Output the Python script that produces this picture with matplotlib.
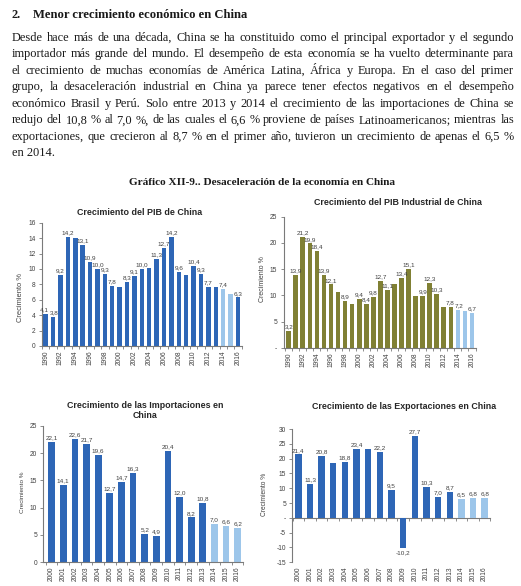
import matplotlib
matplotlib.use("Agg")
import matplotlib.pyplot as plt
import numpy as np

# ---------------------------------------------------------------- data
years_long = list(range(1990, 2017))
years_short = list(range(2000, 2017))

pib = [4.1, 3.8, 9.2, 14.2, 14.0, 13.1, 10.9, 10.0, 9.3, 7.8, 7.6, 8.3, 9.1, 10.0,
       10.1, 11.3, 12.7, 14.2, 9.6, 9.2, 10.4, 9.3, 7.7, 7.7, 7.4, 6.8, 6.3]
pib_unlabeled = [4, 10, 14, 19, 23, 25]
pib_projected = [2014, 2015]

industrial = [3.2, 13.9, 21.2, 19.9, 18.4, 13.9, 12.1, 10.7, 8.9, 8.3, 9.4, 8.4, 9.8,
              12.7, 11.1, 12.2, 13.4, 15.1, 9.9, 9.9, 12.3, 10.3, 7.9, 7.8, 7.2, 7.0, 6.7]
industrial_unlabeled = [7, 9, 15, 18, 22, 25]
industrial_projected = [2014, 2015, 2016]

importaciones = [22.1, 14.1, 22.6, 21.7, 19.6, 12.7, 14.7, 16.3, 5.2, 4.9, 20.4,
                 12.0, 8.2, 10.8, 7.0, 6.6, 6.2]
importaciones_unlabeled = []

exportaciones = [21.4, 11.3, 20.8, 18.6, 18.8, 23.4, 23.4, 22.2, 9.5, -10.2, 27.7,
                 10.3, 7.0, 8.7, 6.5, 6.8, 6.8]
exportaciones_unlabeled = [3, 6]
trade_projected = [2014, 2015, 2016]

heading_num = "2."
heading = "Menor crecimiento económico en China"
paragraph = [
    "Desde hace más de una década, China se ha constituido como el principal exportador y el segundo",
    "importador más grande del mundo. El desempeño de esta economía se ha vuelto determinante para",
    "el crecimiento de muchas economías de América Latina, África y Europa. En el caso del primer",
    "grupo, la desaceleración industrial en China ya parece tener efectos negativos en el desempeño",
    "económico Brasil y Perú. Solo entre 2013 y 2014 el crecimiento de las importaciones de China se",
    "redujo del 10,8 % al 7,0 %, de las cuales el 6,6 % proviene de países Latinoamericanos; mientras las",
    "exportaciones, que crecieron al 8,7 % en el primer año, tuvieron un crecimiento de apenas el 6,5 %",
    "en 2014.",
]
figure_title = "Gráfico XII-9.. Desaceleración de la economía en China"

# ---------------------------------------------------------------- style
DARK = "#2E66B6"
LIGHT = "#9DC6EA"
OLIVE = "#808034"
GREY_TXT = "#404040"
AXIS_COL = "#7a7a7a"
SERIF = "Liberation Serif"
SANS = "Liberation Sans"

plt.rcParams["font.family"] = [SANS, "DejaVu Sans"]

W, H = 521, 586
fig = plt.figure(figsize=(W / 100, H / 100), dpi=100)
renderer = fig.canvas.get_renderer()


def fx(x):
    return x / W


def fy(y):
    return 1 - y / H


def width_px(s, **kw):
    t = fig.text(0, 0, s, **kw)
    w = t.get_window_extent(renderer).width
    t.remove()
    return w


# ---------------------------------------------------------------- text block
x_left, x_right = 12, 514
base0, lead = 41.0, 16.45

# body size chosen so the tightest line fills the column with plain spaces
probe = width_px(paragraph[5], family=SERIF, fontsize=8.0)
body_size = 8.0 * (x_right - x_left - 3) / probe
body_kw = dict(family=SERIF, fontsize=body_size, color="#1a1a1a")

fig.text(fx(12), fy(18.5), heading_num, family=SERIF, fontweight="bold",
         fontsize=8.8, color="#1a1a1a", va="baseline")
hs = 8.6 * 214 / width_px(heading, family=SERIF, fontweight="bold", fontsize=8.6)
fig.text(fx(33), fy(18.5), heading, family=SERIF, fontweight="bold",
         fontsize=hs, color="#1a1a1a", va="baseline")

for i, line in enumerate(paragraph):
    yb = fy(base0 + i * lead)
    words = line.split(" ")
    if i == len(paragraph) - 1:
        fig.text(fx(x_left), yb, line, va="baseline", **body_kw)
        continue
    widths = [width_px(w, **body_kw) for w in words]
    gap = (x_right - x_left - sum(widths)) / (len(words) - 1)
    x = x_left
    for w, wd in zip(words, widths):
        fig.text(fx(x), yb, w, va="baseline", **body_kw)
        x += wd + gap

ts = 8.2 * 269 / width_px(figure_title, family=SERIF, fontweight="bold", fontsize=8.2)
fig.text(fx(262), fy(185), figure_title, family=SERIF, fontweight="bold",
         fontsize=ts, color="#1a1a1a", ha="center", va="baseline")


# ---------------------------------------------------------------- charts
def fmt(v):
    return f"{v:.1f}".replace(".", ",")


def make_axes(l, r, t, b):
    return fig.add_axes([fx(l), fy(b), fx(r) - fx(l), fy(t) - fy(b)])


def style_axes(ax, years, ylim, yticks, step, zero_dash=False):
    ax.set_ylim(*ylim)
    ax.set_yticks(yticks)
    labels = [("-" if (zero_dash and v == 0) else f"{v:g}") for v in yticks]
    ax.set_yticklabels(labels)
    for s in ("top", "right"):
        ax.spines[s].set_visible(False)
    for s in ("left", "bottom"):
        ax.spines[s].set_color(AXIS_COL)
        ax.spines[s].set_linewidth(0.8)
    idx = np.arange(len(years))
    ax.set_xticks(idx[::step])
    ax.set_xticklabels([str(y) for y in years][::step], rotation=90)
    ax.set_xticks(np.arange(len(years) + 1) - 0.5, minor=True)
    ax.tick_params(axis="y", direction="out", length=2.5, width=0.6,
                   color=AXIS_COL, labelsize=4.8, labelcolor=GREY_TXT, pad=2)
    ax.tick_params(axis="x", which="major", length=0, labelsize=4.8,
                   labelcolor=GREY_TXT, pad=3)
    ax.tick_params(axis="x", which="minor", direction="out", length=2,
                   width=0.6, color=AXIS_COL)
    ax.set_facecolor("none")


def draw_bars(ax, years, values, base_color, projected, unlabeled, width,
              nudge=None):
    nudge = nudge or {}
    idx = np.arange(len(years))
    colors = [LIGHT if y in projected else base_color for y in years]
    ax.bar(idx, values, width=width, color=colors, zorder=2)
    for i, v in enumerate(values):
        if i in unlabeled:
            continue
        dx = nudge.get(i, 0)
        if v >= 0:
            ax.annotate(fmt(v), (i, v), xytext=(dx, 1.2), textcoords="offset points",
                        ha="center", va="bottom", fontsize=4.6, color=GREY_TXT)
        else:
            ax.annotate(fmt(v), (i, v), xytext=(dx, -1.5), textcoords="offset points",
                        ha="center", va="top", fontsize=4.6, color=GREY_TXT)


def chart_title(x, y, s):
    fig.text(fx(x), fy(y), s, ha="center", va="center", fontsize=6.4,
             fontweight="bold", color="#262626", linespacing=1.2)


def ylabel(x, y, size=5.0):
    fig.text(fx(x), fy(y), "Crecimiento %", rotation=90, ha="center",
             va="center", fontsize=size, color=GREY_TXT)


# PIB
ax1 = make_axes(42, 241.7, 222.7, 346)
draw_bars(ax1, years_long, pib, DARK, pib_projected, pib_unlabeled, 0.6,
          nudge={0: -1.2, 1: 0.6})
style_axes(ax1, years_long, (0, 16), list(range(0, 17, 2)), 2)
ax1.set_xlim(-0.5, len(years_long) - 0.5)
chart_title(140, 212.5, "Crecimiento del PIB de China")
ylabel(20, 298, 5.4)

# PIB industrial
ax2 = make_axes(283.5, 475.5, 216.7, 348)
draw_bars(ax2, years_long, industrial, OLIVE, industrial_projected,
          industrial_unlabeled, 0.66, nudge={23: -0.9, 24: 0.9})
style_axes(ax2, years_long, (0, 25), list(range(0, 26, 5)), 2, zero_dash=True)
ax2.set_xlim(-0.74, len(years_long) - 0.5)
chart_title(398, 202.5, "Crecimiento del PIB Industrial de China")
ylabel(262, 279, 5.0)

# Importaciones
ax3 = make_axes(43.3, 243.5, 425.7, 562.3)
draw_bars(ax3, years_short, importaciones, DARK, trade_projected,
          importaciones_unlabeled, 0.58)
style_axes(ax3, years_short, (0, 25), list(range(0, 26, 5)), 1)
ax3.set_xlim(-0.72, len(years_short) - 0.5)
chart_title(145, 410.5, "Crecimiento de las Importaciones en\nChina")
ylabel(22, 492, 4.6)

# Exportaciones
ax4 = make_axes(292.3, 490.5, 429, 562.3)
draw_bars(ax4, years_short, exportaciones, DARK, trade_projected,
          exportaciones_unlabeled, 0.55)
style_axes(ax4, years_short, (-15, 30), list(range(-15, 31, 5)), 1, zero_dash=True)
ax4.set_xlim(-0.52, len(years_short) - 0.5)
ax4.spines["bottom"].set_visible(False)
ax4.tick_params(axis="x", which="minor", length=0)
zero_axis = ax4.secondary_xaxis(15 / 45)
zero_axis.spines["bottom"].set_color(AXIS_COL)
zero_axis.spines["bottom"].set_linewidth(0.8)
zero_axis.set_xticks([])
zero_axis.set_xticks(np.arange(len(years_short) + 1) - 0.5, minor=True)
zero_axis.tick_params(axis="x", which="minor", direction="out", length=2,
                      width=0.6, color=AXIS_COL)
chart_title(404.5, 406.5, "Crecimiento de las Exportaciones en China")
ylabel(264, 494, 4.8)

fig.savefig("out.png", dpi=100)
